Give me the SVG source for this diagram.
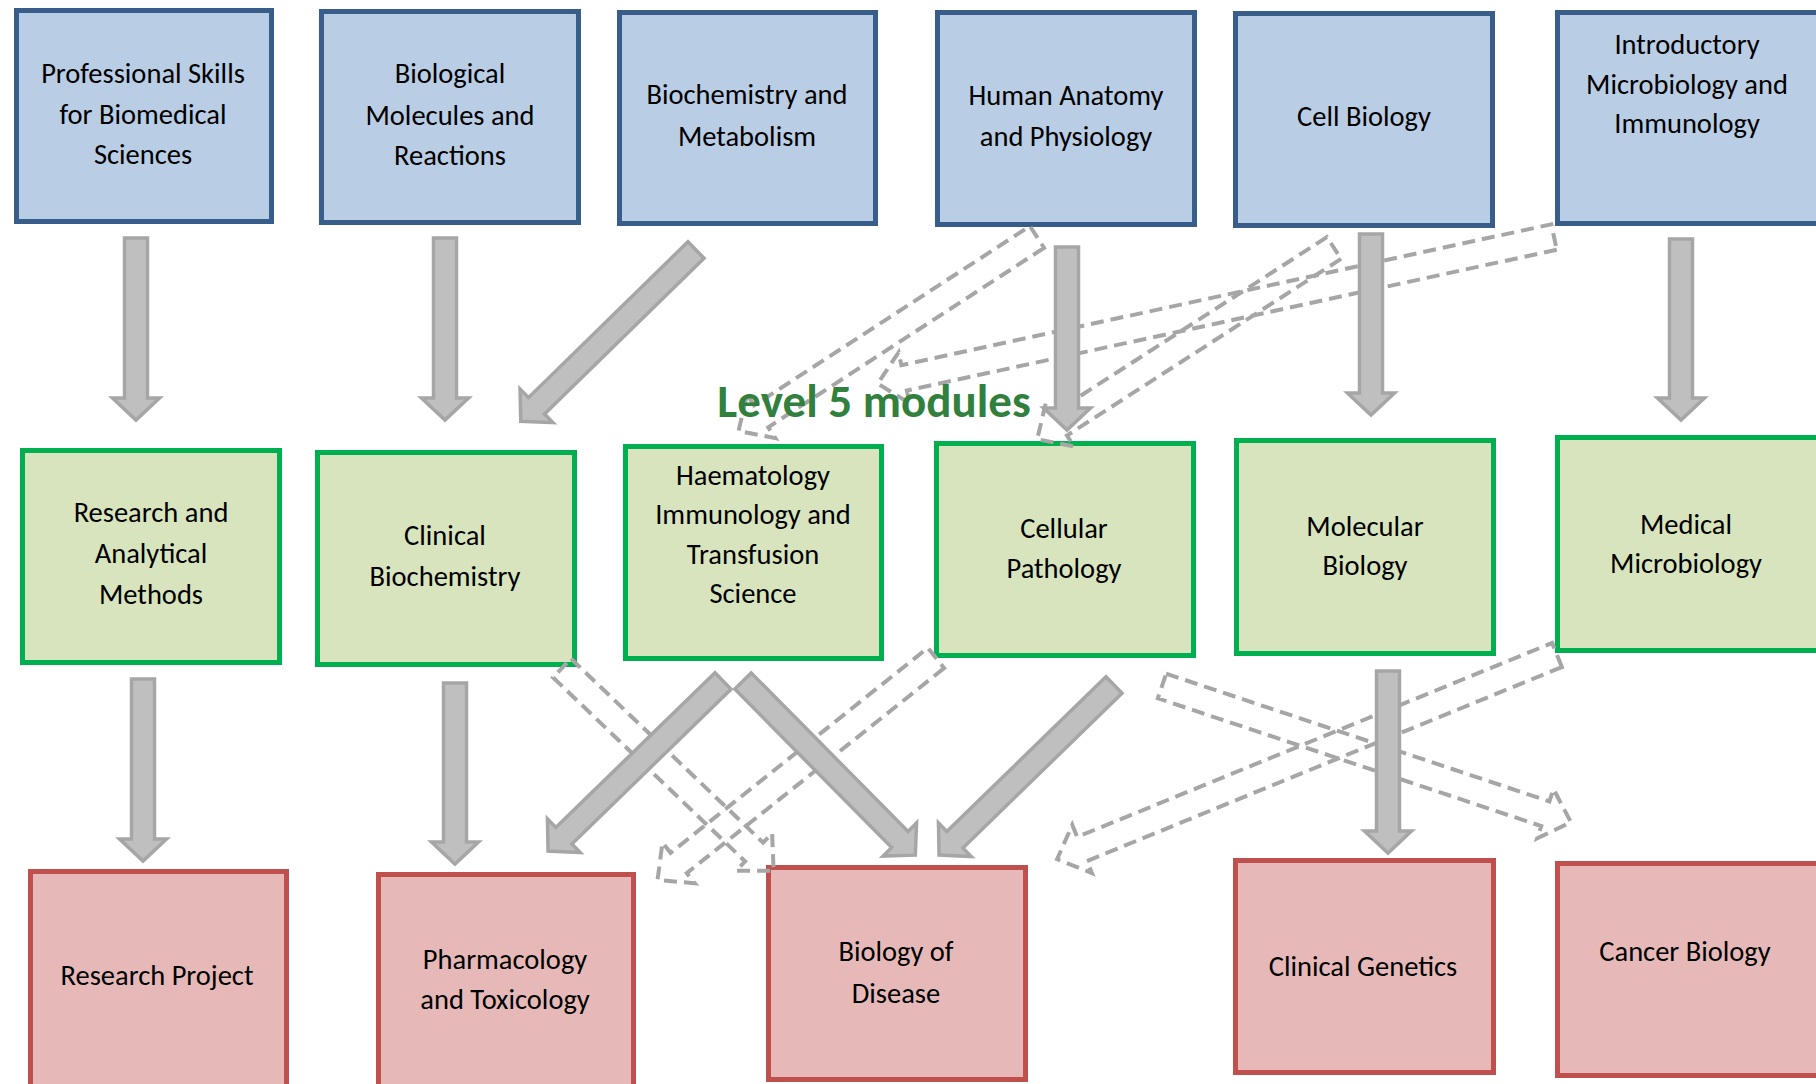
<svg xmlns="http://www.w3.org/2000/svg" width="1816" height="1084" viewBox="0 0 1816 1084">
<style>
.blue{fill:#B9CDE5;stroke:#385D8A;stroke-width:5}
.green{fill:#D7E4BD;stroke:#00B050;stroke-width:5}
.red{fill:#E6B9B8;stroke:#C0504D;stroke-width:5}
.t{font-family:Carlito,Lato,"Liberation Sans",sans-serif;font-size:28.5px;fill:#000;text-anchor:middle}
.solid{fill:#BFBFBF;stroke:#A6A6A6;stroke-width:3.5;stroke-linejoin:miter}
.dash{fill:none;stroke:#A6A6A6;stroke-width:4;stroke-dasharray:13 7;stroke-linejoin:miter}
.title{font-family:Carlito,Lato,"Liberation Sans",sans-serif;font-size:47px;font-weight:bold;fill:#31803D;text-anchor:middle}
</style>
<rect width="1816" height="1084" fill="#FFFFFF"/>
<g id="n-professional-skills"><rect class="blue" x="16.5" y="10.5" width="255" height="211"/><text class="t" x="143" y="83">Professional Skills</text><text class="t" x="143" y="124">for Biomedical</text><text class="t" x="143" y="164">Sciences</text></g>
<g id="n-biological-molecules"><rect class="blue" x="321.5" y="11.5" width="257" height="211"/><text class="t" x="450" y="83">Biological</text><text class="t" x="450" y="125">Molecules and</text><text class="t" x="450" y="165">Reactions</text></g>
<g id="n-biochemistry-metabolism"><rect class="blue" x="619.5" y="12.5" width="256" height="211"/><text class="t" x="747" y="104">Biochemistry and</text><text class="t" x="747" y="146">Metabolism</text></g>
<g id="n-human-anatomy"><rect class="blue" x="937.5" y="12.5" width="257" height="212"/><text class="t" x="1066" y="105">Human Anatomy</text><text class="t" x="1066" y="146">and Physiology</text></g>
<g id="n-cell-biology"><rect class="blue" x="1235.5" y="13.5" width="257" height="212"/><text class="t" x="1364" y="126">Cell Biology</text></g>
<g id="n-intro-microbiology"><rect class="blue" x="1557.5" y="12.5" width="265" height="211"/><text class="t" x="1687" y="54">Introductory</text><text class="t" x="1687" y="94">Microbiology and</text><text class="t" x="1687" y="133">Immunology</text></g>

<g id="n-research-methods"><rect class="green" x="22.5" y="450.5" width="257" height="212"/><text class="t" x="151" y="522">Research and</text><text class="t" x="151" y="563">Analytical</text><text class="t" x="151" y="604">Methods</text></g>
<g id="n-clinical-biochemistry"><rect class="green" x="317.5" y="452.5" width="257" height="212"/><text class="t" x="445" y="545">Clinical</text><text class="t" x="445" y="586">Biochemistry</text></g>
<g id="n-haematology"><rect class="green" x="625.5" y="446.5" width="256" height="212"/><text class="t" x="753" y="485">Haematology</text><text class="t" x="753" y="524">Immunology and</text><text class="t" x="753" y="564">Transfusion</text><text class="t" x="753" y="603">Science</text></g>
<g id="n-cellular-pathology"><rect class="green" x="936.5" y="443.5" width="257" height="212"/><text class="t" x="1064" y="538">Cellular</text><text class="t" x="1064" y="578">Pathology</text></g>
<g id="n-molecular-biology"><rect class="green" x="1236.5" y="440.5" width="257" height="213"/><text class="t" x="1365" y="536">Molecular</text><text class="t" x="1365" y="575">Biology</text></g>
<g id="n-medical-microbiology"><rect class="green" x="1557.5" y="437.5" width="265" height="213"/><text class="t" x="1686" y="534">Medical</text><text class="t" x="1686" y="573">Microbiology</text></g>

<g id="n-research-project"><rect class="red" x="30.5" y="871.5" width="256" height="220"/><text class="t" x="157" y="985">Research Project</text></g>
<g id="n-pharmacology"><rect class="red" x="378.5" y="874.5" width="255" height="220"/><text class="t" x="505" y="969">Pharmacology</text><text class="t" x="505" y="1009">and Toxicology</text></g>
<g id="n-biology-of-disease"><rect class="red" x="768.5" y="867.5" width="257" height="212"/><text class="t" x="896" y="961">Biology of</text><text class="t" x="896" y="1003">Disease</text></g>
<g id="n-clinical-genetics"><rect class="red" x="1235.5" y="860.5" width="258" height="212"/><text class="t" x="1363" y="976">Clinical Genetics</text></g>
<g id="n-cancer-biology"><rect class="red" x="1557.5" y="863.5" width="265" height="212"/><text class="t" x="1685" y="961">Cancer Biology</text></g>

<g id="connectors">
<polygon class="dash" transform="translate(1037,237) rotate(146.97)" points="0,-13 329,-13 329,-26 356,0 329,26 329,13 0,13"/>
<polygon class="dash" transform="translate(1334,248) rotate(147.21)" points="0,-13 326,-13 326,-26 353,0 326,26 326,13 0,13"/>
<polygon class="dash" transform="translate(1554,237) rotate(167.77)" points="0,-13 665,-13 665,-26 692,0 665,26 665,13 0,13"/>
<polygon class="dash" transform="translate(562,668) rotate(43.76)" points="0,-13 266,-13 266,-26 293,0 266,26 266,13 0,13"/>
<polygon class="dash" transform="translate(936,658) rotate(141.46)" points="0,-13 329,-13 329,-26 356,0 329,26 329,13 0,13"/>
<polygon class="dash" transform="translate(1162,686) rotate(18.43)" points="0,-13 404,-13 404,-26 431,0 404,26 404,13 0,13"/>
<polygon class="dash" transform="translate(1557,655) rotate(157.78)" points="0,-13 513,-13 513,-26 540,0 513,26 513,13 0,13"/>

<polygon class="solid" transform="translate(136,238) rotate(90)" points="0,-11.5 160,-11.5 160,-23.5 182,0 160,23.5 160,11.5 0,11.5"/>
<polygon class="solid" transform="translate(445,238) rotate(90)" points="0,-11.5 160,-11.5 160,-23.5 182,0 160,23.5 160,11.5 0,11.5"/>
<polygon class="solid" transform="translate(696,250) rotate(135.66)" points="0,-11.5 223,-11.5 223,-23.5 245,0 223,23.5 223,11.5 0,11.5"/>
<polygon class="solid" transform="translate(1067,247) rotate(90)" points="0,-11.5 161,-11.5 161,-23.5 183,0 161,23.5 161,11.5 0,11.5"/>
<polygon class="solid" transform="translate(1371,234) rotate(90)" points="0,-11.5 159,-11.5 159,-23.5 181,0 159,23.5 159,11.5 0,11.5"/>
<polygon class="solid" transform="translate(1681,239) rotate(90)" points="0,-11.5 159,-11.5 159,-23.5 181,0 159,23.5 159,11.5 0,11.5"/>
<polygon class="solid" transform="translate(143,679) rotate(90)" points="0,-11.5 160,-11.5 160,-23.5 182,0 160,23.5 160,11.5 0,11.5"/>
<polygon class="solid" transform="translate(455,683) rotate(90)" points="0,-11.5 159,-11.5 159,-23.5 181,0 159,23.5 159,11.5 0,11.5"/>
<polygon class="solid" transform="translate(723,681) rotate(135.8)" points="0,-11.5 222,-11.5 222,-23.5 244,0 222,23.5 222,11.5 0,11.5"/>
<polygon class="solid" transform="translate(743,681) rotate(45.3)" points="0,-11.5 223,-11.5 223,-23.5 245,0 223,23.5 223,11.5 0,11.5"/>
<polygon class="solid" transform="translate(1114,685) rotate(135.8)" points="0,-11.5 222,-11.5 222,-23.5 244,0 222,23.5 222,11.5 0,11.5"/>
<polygon class="solid" transform="translate(1388,671) rotate(90)" points="0,-11.5 160,-11.5 160,-23.5 182,0 160,23.5 160,11.5 0,11.5"/>
</g>

<g id="label-level5"><text class="title" x="874" y="417">Level 5 modules</text></g>
</svg>
